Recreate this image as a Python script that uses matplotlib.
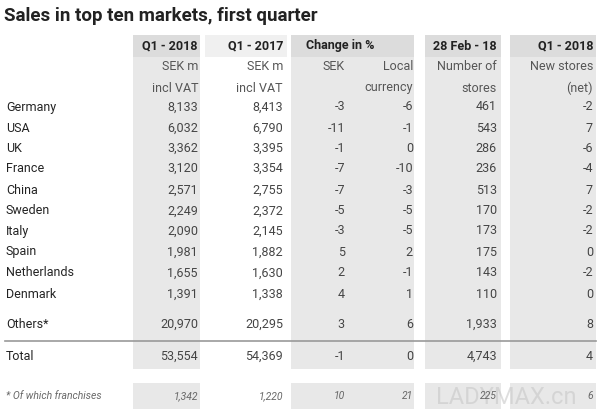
import matplotlib
matplotlib.use("Agg")
import matplotlib.pyplot as plt
from matplotlib.patches import Rectangle

title = "Sales in top ten markets, first quarter"
markets = ["Germany", "USA", "UK", "France", "China", "Sweden", "Italy", "Spain", "Netherlands", "Denmark"]
q1_2018 = ["8,133", "6,032", "3,362", "3,120", "2,571", "2,249", "2,090", "1,981", "1,655", "1,391"]
q1_2017 = ["8,413", "6,790", "3,395", "3,354", "2,755", "2,372", "2,145", "1,882", "1,630", "1,338"]
chg_sek = ["-3", "-11", "-1", "-7", "-7", "-5", "-3", "5", "2", "4"]
chg_local = ["-6", "-1", "0", "-10", "-3", "-5", "-5", "2", "-1", "1"]
stores = ["461", "543", "286", "236", "513", "170", "173", "175", "143", "110"]
new_stores = ["-2", "7", "-6", "-4", "7", "-2", "-2", "0", "-2", "0"]
others = ["Others*", "20,970", "20,295", "3", "6", "1,933", "8"]
total = ["Total", "53,554", "54,369", "-1", "0", "4,743", "4"]
franch = ["* Of which franchises", "1,342", "1,220", "10", "21", "225", "6"]
headers = ["Q1 - 2018", "Q1 - 2017", "Change in %", "28 Feb - 18", "Q1 - 2018"]
sub1 = ["SEK m", "SEK m", "SEK", "Local", "Number of", "New stores"]
sub2 = ["incl VAT", "incl VAT", "", "currency", "stores", "(net)"]

fig = plt.figure(figsize=(6, 4.16), dpi=100)
ax = fig.add_axes([0, 0, 1, 1])
ax.set_xlim(0, 600); ax.set_ylim(416, 0); ax.axis("off")
G = "#e8e8e8"; HG = "#dcdcdc"; TC = "#222222"
hboxes = [(133, 200), (205, 287), (291, 414), (425, 501), (510, 596)]
for (a, b), h in zip(hboxes, headers):
    ax.add_patch(Rectangle((a, 35), b - a, 22, color=HG if h != "Q1 - 2017" else "#f0f0f0", lw=0))
for a, b in [(133, 200), (291, 414), (425, 501), (510, 596)]:
    ax.add_patch(Rectangle((a, 57), b - a, 312, color=G, lw=0))
    ax.add_patch(Rectangle((a, 383), b - a, 26, color=G, lw=0))
ax.text(436, 397, "LADYMAX.cn", fontsize=17, color="#c8c8c8", va="center", alpha=0.6, family="Roboto", zorder=1.5)
ax.text(4, 16, title, fontsize=13.5, fontweight="bold", color=TC, va="center", family="Roboto")
hx = [198, 283, None, 497, 593]
for x, h in zip(hx, headers):
    if x is None:
        ax.text(340, 46, h, ha="center", va="center", fontsize=9, fontweight="bold", color=TC, family="Roboto")
    else:
        ax.text(x, 46, h, ha="right", va="center", fontsize=9, fontweight="bold", color=TC, family="Roboto")
cx = [198, 283, 345, 413, 497, 593]
for x, s1, s2 in zip(cx, sub1, sub2):
    ax.text(x, 67, s1, ha="right", va="center", fontsize=9, color="#555", family="Roboto")
    ax.text(x, 88, s2, ha="right", va="center", fontsize=9, color="#555", family="Roboto")
ys = [107, 128, 148, 168, 190, 211, 231, 252, 273, 294]
for i, y in enumerate(ys):
    row = [q1_2018[i], q1_2017[i], chg_sek[i], chg_local[i], stores[i], new_stores[i]]
    ax.text(6, y, markets[i], va="center", fontsize=9, color=TC, family="Roboto")
    for x, v in zip(cx, row):
        ax.text(x, y, v, ha="right", va="center", fontsize=9, color="#444", family="Roboto")
for row, y, st, fs in [(others, 324, "normal", 9), (total, 356, "normal", 9), (franch, 396, "italic", 7.5)]:
    ax.text(6, y, row[0], va="center", fontsize=fs, color=TC if st == "normal" else "#666", style=st, family="Roboto")
    for x, v in zip(cx, row[1:]):
        ax.text(x, y, v, ha="right", va="center", fontsize=fs, color="#444" if st == "normal" else "#666", style=st, family="Roboto")
ax.plot([5, 596], [341, 341], color="#999", lw=1.2)
fig.savefig("out.png", dpi=100, facecolor="white")
